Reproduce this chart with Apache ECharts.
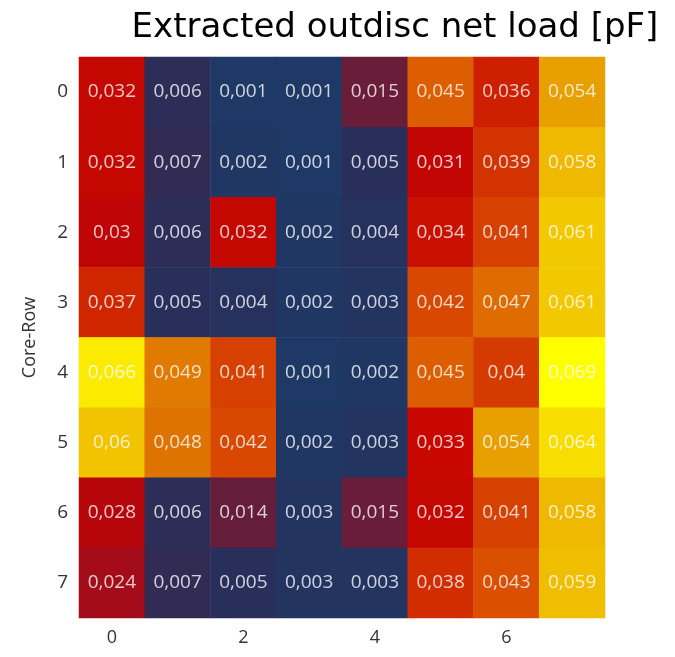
<!DOCTYPE html>
<html>
<head>
<meta charset="utf-8">
<script src="https://cdn.jsdelivr.net/npm/echarts@6/dist/echarts.min.js"></script>
<style>
  html, body { margin: 0; padding: 0; background: #ffffff; }
  #chart { width: 675px; height: 657px; }
</style>
</head>
<body>
<div id="chart"></div>
<script>
// Core columns (x) and core rows (y)
const coreCols = ['0', '1', '2', '3', '4', '5', '6', '7'];
const coreRows = ['0', '1', '2', '3', '4', '5', '6', '7'];

// Extracted load per core, one array per row [pF]
const row0 = [0.032, 0.006, 0.001, 0.001, 0.015, 0.045, 0.036, 0.054];
const row1 = [0.032, 0.007, 0.002, 0.001, 0.005, 0.031, 0.039, 0.058];
const row2 = [0.03, 0.006, 0.032, 0.002, 0.004, 0.034, 0.041, 0.061];
const row3 = [0.037, 0.005, 0.004, 0.002, 0.003, 0.042, 0.047, 0.061];
const row4 = [0.066, 0.049, 0.041, 0.001, 0.002, 0.045, 0.04, 0.069];
const row5 = [0.06, 0.048, 0.042, 0.002, 0.003, 0.033, 0.054, 0.064];
const row6 = [0.028, 0.006, 0.014, 0.003, 0.015, 0.032, 0.041, 0.058];
const row7 = [0.024, 0.007, 0.005, 0.003, 0.003, 0.038, 0.043, 0.059];
const rows = [row0, row1, row2, row3, row4, row5, row6, row7];

// Navy -> maroon -> red -> orange -> yellow scale, evenly spaced stops
const scaleColors = [
  '#1f3966', '#282f5a', '#3d2950', '#5e1f3e', '#741a34', '#921224',
  '#a90a14', '#bc0408', '#c80800', '#d02600', '#d64000', '#dd5e00',
  '#e07a00', '#e69a00', '#ecb400', '#f2c800', '#f8e400', '#ffff00'
];

const cells = [];
rows.forEach((r, yi) => r.forEach((v, xi) => cells.push([xi, yi, v])));

const chart = echarts.init(document.getElementById('chart'));
chart.setOption({
  animation: false,
  backgroundColor: '#ffffff',
  title: {
    text: 'Extracted outdisc net load [pF]',
    left: 390,
    textAlign: 'center',
    top: 6,
    textStyle: {
      fontFamily: 'DejaVu Sans',
      fontWeight: 'normal',
      fontSize: 34,
      color: '#000000'
    }
  },
  grid: { left: 79, right: 70, top: 57, bottom: 39 },
  xAxis: {
    type: 'category',
    data: coreCols,
    axisLine: { show: false },
    axisTick: { show: false },
    splitLine: { show: false },
    axisLabel: {
      interval: 1,
      margin: 11,
      fontFamily: 'Open Sans',
      fontSize: 18,
      color: '#333333'
    }
  },
  yAxis: {
    type: 'category',
    data: coreRows,
    inverse: true,
    name: 'Core-Row',
    nameLocation: 'middle',
    nameGap: 40,
    nameRotate: 90,
    nameTextStyle: { fontFamily: 'Open Sans', fontSize: 18, color: '#333333' },
    axisLine: { show: false },
    axisTick: { show: false },
    splitLine: { show: false },
    axisLabel: {
      margin: 11,
      fontFamily: 'Open Sans',
      fontSize: 19,
      color: '#333333'
    }
  },
  visualMap: {
    show: false,
    type: 'continuous',
    min: 0.001,
    max: 0.069,
    dimension: 2,
    inRange: { color: scaleColors }
  },
  series: [{
    type: 'heatmap',
    data: cells,
    label: {
      show: true,
      fontFamily: 'Open Sans',
      fontSize: 19,
      color: 'rgba(255,255,255,0.78)',
      formatter: p => String(p.value[2]).replace('.', ',')
    },
    itemStyle: { borderWidth: 0 }
  }]
});
</script>
</body>
</html>
